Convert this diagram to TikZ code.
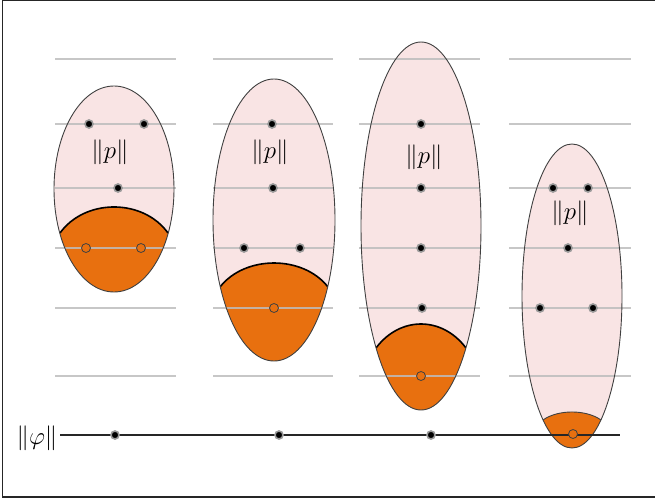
\documentclass[tikz,border=0pt]{standalone}
\begin{document}
\begin{tikzpicture}[x=1pt,y=-1pt]
\definecolor{pinkfill}{HTML}{F9E4E4}
\definecolor{capor}{HTML}{E8700F}
\definecolor{gline}{HTML}{BDBDBD}
\tikzset{
  guide/.style={draw=gline,line width=1.8pt},
  blob/.style={draw=black!75,line width=0.9pt},
  capedge/.style={draw=black,line width=1.6pt},
  bdot/.style={circle,fill=black,inner sep=0pt,minimum size=8pt,draw=black!40,line width=1.6pt},
  odot/.style={circle,fill=capor,inner sep=0pt,minimum size=9pt,draw=black!75,line width=0.8pt},
  norm/.style={inner sep=0pt,font=\fontsize{24}{27}\selectfont}
}
\useasboundingbox (0,0) rectangle (655,500);
\draw[line width=1.4pt,black!85] (655,0.7) -- (2.5,0.7) -- (2.5,497) -- (655,497);

% ellipse fills
\fill[pinkfill] (114,189) ellipse [x radius=60,y radius=103];
\fill[pinkfill] (274,220) ellipse [x radius=61,y radius=141];
\fill[pinkfill] (421,226) ellipse [x radius=60,y radius=184];
\fill[pinkfill] (572,296) ellipse [x radius=50,y radius=152];

% caps
\begin{scope}
\clip (114,189) ellipse [x radius=60,y radius=103];
\fill[capor] (40,253) -- (60,233) .. controls (85,198.3) and (143,198.3) .. (168,233) -- (188,253) -- (188,300) -- (40,300) -- cycle;
\end{scope}
\begin{scope}
\clip (274,220) ellipse [x radius=61,y radius=141];
\fill[capor] (200,307) -- (220,287) .. controls (245,255) and (303,255) .. (328,287) -- (348,307) -- (348,370) -- (200,370) -- cycle;
\end{scope}
\begin{scope}
\clip (421,226) ellipse [x radius=60,y radius=184];
\fill[capor] (356,368) -- (376,348) .. controls (400,316) and (442,316) .. (466,348) -- (486,368) -- (486,420) -- (356,420) -- cycle;
\end{scope}
\begin{scope}
\clip (572,296) ellipse [x radius=50,y radius=152];
\fill[capor] (523,440) -- (543,420) .. controls (558,409.3) and (586,409.3) .. (601,420) -- (621,440) -- (621,460) -- (523,460) -- cycle;
\end{scope}

% guide lines
\foreach \xa/\xb in {55/176,213/333,359/480,509/631}{
  \foreach \yy in {59,124,188,248,308,376}{
    \draw[guide,opacity=0.85] (\xa,\yy) -- (\xb,\yy);
  }
}

% cap edges
\begin{scope}
\clip (114,189) ellipse [x radius=60,y radius=103];
\draw[capedge] (60,233) .. controls (85,198.3) and (143,198.3) .. (168,233);
\end{scope}
\begin{scope}
\clip (274,220) ellipse [x radius=61,y radius=141];
\draw[capedge] (220,287) .. controls (245,255) and (303,255) .. (328,287);
\end{scope}
\begin{scope}
\clip (421,226) ellipse [x radius=60,y radius=184];
\draw[capedge] (376,348) .. controls (400,316) and (442,316) .. (466,348);
\end{scope}
\begin{scope}
\clip (572,296) ellipse [x radius=50,y radius=152];
\draw[draw=black!75,line width=0.9pt] (543,420) .. controls (558,409.3) and (586,409.3) .. (601,420);
\end{scope}

% ellipse outlines
\draw[blob] (114,189) ellipse [x radius=60,y radius=103];
\draw[blob] (274,220) ellipse [x radius=61,y radius=141];
\draw[blob] (421,226) ellipse [x radius=60,y radius=184];
\draw[blob] (572,296) ellipse [x radius=50,y radius=152];

% base line
\node[norm] (phi) at (37,438) {$\|\varphi\|$};
\coordinate (lineL) at (60,435);
\coordinate (lineR) at (620,435);
\draw[line width=1.8pt,black!85] (lineL) -- (lineR);
\node[bdot] (b1) at (115,435) {};
\node[bdot] (b2) at (279,435) {};
\node[bdot] (b3) at (431,435) {};
\node[odot] (b4) at (573,434) {};

% labels
\node[norm] (p1) at (110,152) {$\|p\|$};
\node[norm] (p2) at (270,152) {$\|p\|$};
\node[norm] (p3) at (424,157) {$\|p\|$};
\node[norm] (p4) at (570,213) {$\|p\|$};

% dots column 1
\node[bdot] (a11) at (89,124) {};
\node[bdot] (a12) at (144,124) {};
\node[bdot] (a13) at (118,188) {};
\node[odot] (a14) at (86,248) {};
\node[odot] (a15) at (141,248) {};
% column 2
\node[bdot] (a21) at (272,124) {};
\node[bdot] (a22) at (273,188) {};
\node[bdot] (a23) at (244,248) {};
\node[bdot] (a24) at (300,248) {};
\node[odot] (a25) at (274,308) {};
% column 3
\node[bdot] (a31) at (421,124) {};
\node[bdot] (a32) at (421,188) {};
\node[bdot] (a33) at (421,248) {};
\node[bdot] (a34) at (422,308) {};
\node[odot] (a35) at (421,376) {};
% column 4
\node[bdot] (a41) at (553,188) {};
\node[bdot] (a42) at (588,188) {};
\node[bdot] (a43) at (568,248) {};
\node[bdot] (a44) at (540,308) {};
\node[bdot] (a45) at (593,308) {};
\end{tikzpicture}
\end{document}
